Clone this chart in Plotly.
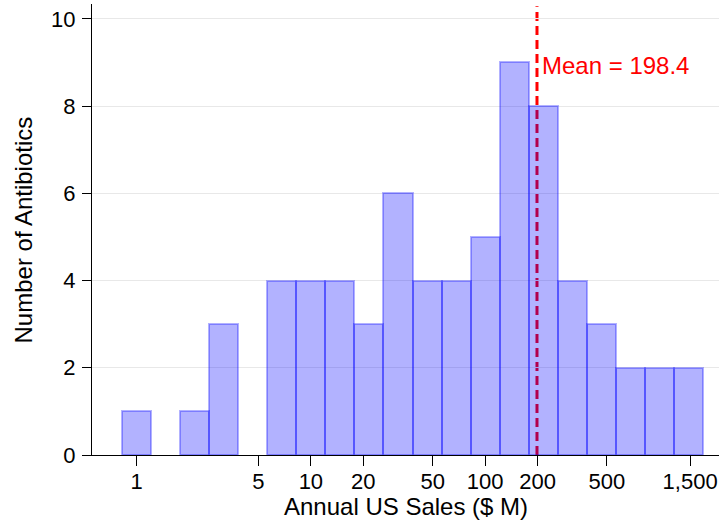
import math
import plotly.graph_objects as go

# Histogram bins (annual US sales, $M) on a log scale: lower and upper bin edges
bin_lower = [0.8254, 1.2115, 1.7783, 2.6102, 3.8312, 5.6234, 8.2540, 12.115, 17.783, 26.102,
             38.312, 56.234, 82.540, 121.15, 177.83, 261.02, 383.12, 562.34, 825.40, 1211.5]
bin_upper = [1.2115, 1.7783, 2.6102, 3.8312, 5.6234, 8.2540, 12.115, 17.783, 26.102, 38.312,
             56.234, 82.540, 121.15, 177.83, 261.02, 383.12, 562.34, 825.40, 1211.5, 1778.3]
counts = [1, 0, 1, 3, 0, 4, 4, 4, 3, 6, 4, 4, 5, 9, 8, 4, 3, 2, 2, 2]

mean_value = 198.4
mean_label = "Mean = 198.4"

x_tick_vals = [1, 5, 10, 20, 50, 100, 200, 500, 1500]
x_tick_text = ["1", "5", "10", "20", "50", "100", "200", "500", "1,500"]
y_tick_vals = [0, 2, 4, 6, 8, 10]

x_title = "Annual US Sales ($ M)"
y_title = "Number of Antibiotics"

xs, ws, ys = [], [], []
for lo, hi, c in zip(bin_lower, bin_upper, counts):
    if c > 0:
        xs.append(lo)
        ws.append(hi - lo)
        ys.append(c)

FONT = "Liberation Sans, Arial, sans-serif"

fig = go.Figure()
fig.add_trace(go.Bar(
    x=xs, y=ys, width=ws, offset=0,
    marker=dict(color="rgba(0,0,255,0.3)",
                line=dict(color="rgba(0,0,255,0.3)", width=2)),
    showlegend=False, hoverinfo="x+y",
))

fig.add_shape(type="line", xref="x", yref="paper", x0=mean_value, x1=mean_value,
              y0=0, y1=0.995, layer="below",
              line=dict(color="#ff0000", width=3, dash="9px,5px"))

# annotations on a log axis take log10 positions
fig.add_annotation(x=math.log10(mean_value), y=8.94, xref="x", yref="y", text=mean_label,
                   showarrow=False, xanchor="left", yanchor="middle", xshift=3,
                   font=dict(family=FONT, size=24, color="#ff0000"))

# axis titles
fig.add_annotation(x=0.5, y=-0.114, xref="paper", yref="paper", text=x_title,
                   showarrow=False, xanchor="center", yanchor="middle",
                   font=dict(family=FONT, size=24, color="black"))
fig.add_annotation(x=-0.1085, y=0.5, xref="paper", yref="paper", text=y_title,
                   showarrow=False, xanchor="center", yanchor="middle", textangle=-90,
                   font=dict(family=FONT, size=24, color="black"))

fig.update_layout(
    width=721, height=522,
    margin=dict(l=92, r=2, t=4, b=67),
    plot_bgcolor="white", paper_bgcolor="white",
    font=dict(family=FONT, color="black"),
    bargap=0,
)
fig.update_xaxes(
    type="log", range=[-0.256, 3.342], automargin=False,
    tickmode="array", tickvals=x_tick_vals, ticktext=x_tick_text,
    ticks="outside", ticklen=10, tickwidth=1.3, tickcolor="black",
    ticklabelstandoff=-4,
    showline=True, linecolor="black", linewidth=1.3,
    showgrid=False, zeroline=False,
    tickfont=dict(size=22, family=FONT),
)
fig.update_yaxes(
    range=[0, 10.34], automargin=False,
    tickmode="array", tickvals=y_tick_vals,
    ticks="outside", ticklen=9, tickwidth=1.3, tickcolor="black",
    ticklabelstandoff=2,
    showline=True, linecolor="black", linewidth=1.3,
    showgrid=True, gridcolor="#e8e8e8", gridwidth=1, zeroline=False,
    tickfont=dict(size=22, family=FONT),
)

fig.write_html("out.html", config={"displayModeBar": False},
               post_script="document.body.style.margin='0';")
